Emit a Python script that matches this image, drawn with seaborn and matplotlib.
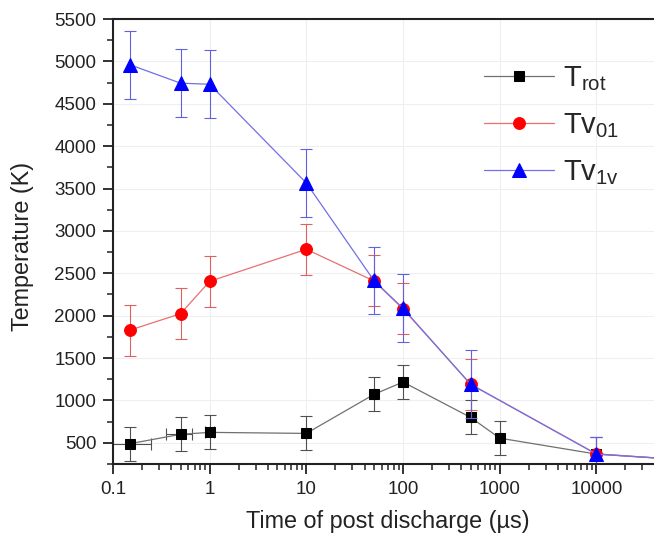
import matplotlib
matplotlib.use("Agg")
import matplotlib.pyplot as plt
import seaborn as sns
import pandas as pd
from matplotlib.ticker import MultipleLocator, LogLocator

# ---- data ----
time_rot = [0.15, 0.5, 1, 10, 50, 100, 500, 1000, 10000, 50000]
t_rot = [490, 600, 623, 611, 1071, 1217, 800, 555, 367, 315]
t_rot_err = [200, 200, 200, 200, 200, 200, 200, 200, 200, 200]
t_rot_xerr = [0.1, 0.15, 0.1, 0, 0, 0, 0, 0, 0, 0]

time_v = [0.15, 0.5, 1, 10, 50, 100, 500, 10000, 50000]
tv01 = [1830, 2023, 2405, 2783, 2410, 2080, 1192, 370, 315]
tv01_err = [300, 300, 300, 300, 300, 300, 300, 200, 200]
tv1v = [4960, 4743, 4730, 3565, 2415, 2087, 1190, 367, 315]
tv1v_err = [400, 400, 400, 400, 400, 400, 400, 200, 200]

labels = [r"T$_{\mathrm{rot}}$", r"Tv$_{\mathrm{01}}$", r"Tv$_{\mathrm{1v}}$"]
xticks = [0.1, 1, 10, 100, 1000, 10000]
xticklabels = ["0.1", "1", "10", "100", "1000", "10000"]
yticks = [500, 1000, 1500, 2000, 2500, 3000, 3500, 4000, 4500, 5000, 5500]

sns.set_theme(style="white")
plt.rcParams["font.family"] = ["Liberation Sans", "DejaVu Sans"]
plt.rcParams["mathtext.fontset"] = "custom"
plt.rcParams["mathtext.rm"] = "Liberation Sans"
plt.rcParams["mathtext.it"] = "Liberation Sans:italic"

fig = plt.figure(figsize=(6.54, 5.33), dpi=100)
W, H = 654, 533
x0, x1 = 113, 693
y0, y1 = 464, 19
ax = fig.add_axes([x0 / W, 1 - y0 / H, (x1 - x0) / W, (y0 - y1) / H])

ax.set_xscale("log")
ax.set_xlim(0.1, 1e5)
ax.set_ylim(250, 5500)

ax.grid(True, which="major", color="#efefef", linewidth=0.8)
ax.set_axisbelow(True)

series = [
    (time_rot, t_rot, t_rot_err, t_rot_xerr, "s", 7.5, "black", "#707070", "#505050", labels[0]),
    (time_v, tv01, tv01_err, None, "o", 8.5, "#ff0000", "#e87070", "#e06060", labels[1]),
    (time_v, tv1v, tv1v_err, None, "^", 9.5, "#0000ff", "#7070e8", "#6060e0", labels[2]),
]

for xs, ys, ye, xe, mk, ms, mcol, lcol, ecol, lab in series:
    ax.errorbar(xs, ys, yerr=ye, xerr=xe, fmt="none", ecolor=ecol,
                elinewidth=0.8, capsize=4, capthick=0.8)
    df = pd.DataFrame({"x": xs, "y": ys})
    sns.lineplot(data=df, x="x", y="y", ax=ax, color=lcol, linewidth=0.9,
                 marker=mk, markersize=ms, markerfacecolor=mcol,
                 markeredgecolor=mcol, label=lab, estimator=None, sort=False)

ax.set_xticks(xticks)
ax.set_xticklabels(xticklabels)
ax.set_yticks(yticks)
ax.yaxis.set_minor_locator(MultipleLocator(250))
ax.xaxis.set_minor_locator(LogLocator(base=10, subs=range(2, 10)))
ax.tick_params(which="major", direction="out", length=7, width=1.3, labelsize=13.5,
               color="#222222", labelcolor="#222222", pad=5, bottom=True, left=True)
ax.tick_params(which="minor", direction="out", length=4, width=1.1, color="#222222",
               bottom=True, left=True)

for s in ["left", "bottom", "top"]:
    ax.spines[s].set_color("#222222")
    ax.spines[s].set_linewidth(1.5)
ax.spines["right"].set_visible(False)

ax.set_xlabel("Time of post discharge (µs)", fontsize=16.8, color="#222222")
ax.set_ylabel("Temperature (K)", fontsize=16.8, color="#222222")
ax.xaxis.set_label_coords((388 - x0) / (x1 - x0), -(510 - y0) / (y0 - y1))
ax.yaxis.set_label_coords(-(x0 - 34) / (x1 - x0), (y0 - 246) / (y0 - y1))

leg = ax.legend(loc="upper left", bbox_to_anchor=(484 / W, 1 - 64 / H),
                bbox_transform=fig.transFigure, frameon=False, fontsize=21,
                handlelength=2.4, handletextpad=0.3, labelspacing=0.62,
                borderpad=0, borderaxespad=0)

fig.savefig("out.png", dpi=100)
